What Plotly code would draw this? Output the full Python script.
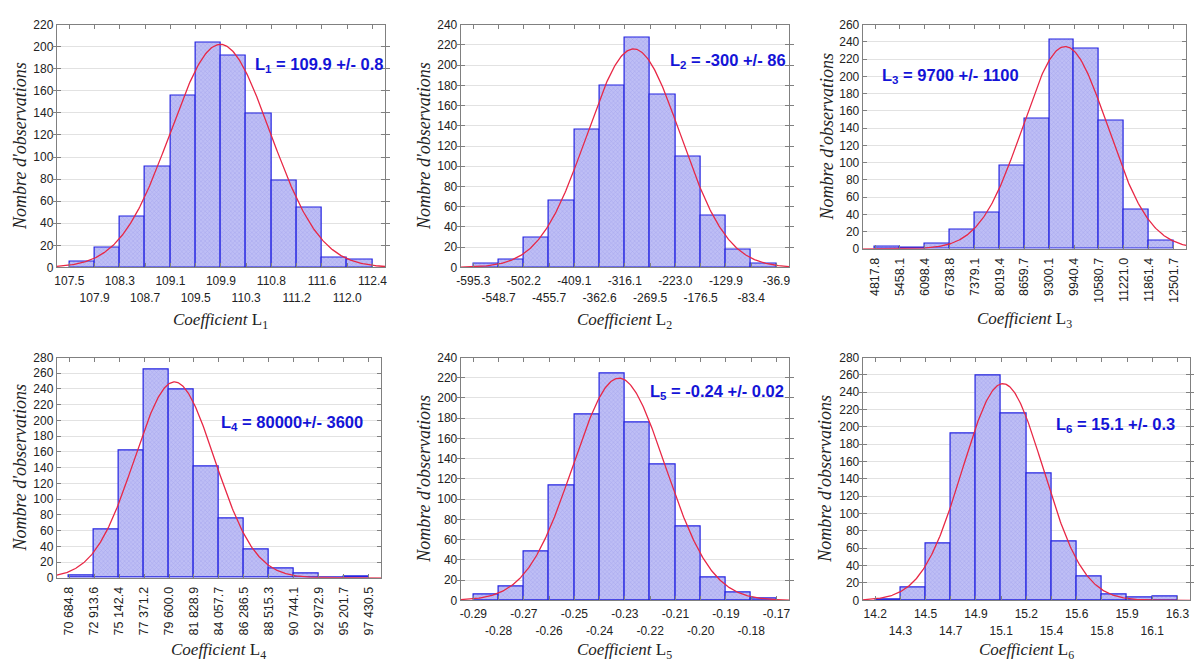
import numpy as np
import plotly.graph_objects as go

# Histogram counts per coefficient (12 bins each)
counts_L1 = [5, 18, 46, 91, 156, 204, 192, 139, 79, 54, 9, 7]
counts_L2 = [4, 8, 29, 66, 136, 180, 227, 171, 110, 51, 18, 4]
counts_L3 = [3, 1, 6, 22, 42, 96, 151, 243, 232, 149, 46, 10]
counts_L4 = [3, 62, 162, 265, 239, 141, 75, 36, 12, 5, 1, 2]
counts_L5 = [6, 14, 48, 113, 184, 224, 176, 134, 73, 23, 8, 2]
counts_L6 = [1, 15, 66, 192, 259, 215, 146, 68, 28, 7, 3, 4]

# Bin-edge tick labels
ticks_L1 = ["107.5", "107.9", "108.3", "108.7", "109.1", "109.5", "109.9",
            "110.3", "110.8", "111.2", "111.6", "112.0", "112.4"]
ticks_L2 = ["-595.3", "-548.7", "-502.2", "-455.7", "-409.1", "-362.6", "-316.1",
            "-269.5", "-223.0", "-176.5", "-129.9", "-83.4", "-36.9"]
ticks_L3 = ["4817.8", "5458.1", "6098.4", "6738.8", "7379.1", "8019.4", "8659.7",
            "9300.1", "9940.4", "10580.7", "11221.0", "11861.4", "12501.7"]
ticks_L4 = ["70 684.8", "72 913.6", "75 142.4", "77 371.2", "79 600.0", "81 828.9",
            "84 057.7", "86 286.5", "88 515.3", "90 744.1", "92 972.9", "95 201.7",
            "97 430.5"]
ticks_L5 = ["-0.29", "-0.28", "-0.27", "-0.26", "-0.25", "-0.24", "-0.23",
            "-0.22", "-0.21", "-0.20", "-0.19", "-0.18", "-0.17"]
ticks_L6 = ["14.2", "14.3", "14.5", "14.7", "14.9", "15.1", "15.2",
            "15.4", "15.6", "15.8", "15.9", "16.1", "16.3"]

# Fitted normal curves (mean, standard deviation)
fit_mean = [109.94, -300.0, 9710.0, 80090.0, -0.2323, 15.087]
fit_sd = [0.806, 86.3, 1090.0, 3582.0, 0.01826, 0.2806]

# Estimates printed in each panel
estimates = ["109.9 +/- 0.8", "-300 +/- 86", "9700 +/- 1100",
             "80000+/- 3600", "-0.24 +/- 0.02", "15.1 +/- 0.3"]

y_max = [220, 240, 260, 280, 240, 280]

counts_all = [counts_L1, counts_L2, counts_L3, counts_L4, counts_L5, counts_L6]
ticks_all = [ticks_L1, ticks_L2, ticks_L3, ticks_L4, ticks_L5, ticks_L6]

W, H = 1194, 669

# Plot areas in pixels: (left, right, top, bottom)
boxes = [(53, 383, 18, 266), (459, 789, 18, 266), (863, 1188, 18, 247),
         (53, 379, 358, 583), (459, 789, 358, 606), (863, 1192, 358, 606)]
vertical_ticks = [False, False, True, True, False, False]
label_pos = [(317, 59), (728, 55), (951, 70), (289, 425), (717, 393), (1117, 427)]
ytitle_x = [16, 422, 827, 16, 422, 825]
xtitle_y = [321, 321, 320, 658, 658, 658]

BAR_EDGE = "rgb(35,35,225)"
CURVE = "rgb(232,40,70)"
TEXT_BLUE = "rgb(20,20,215)"
FRAME = "rgb(128,128,128)"
GRID = "rgb(226,226,226)"
TICK_FONT = dict(family="Liberation Sans Narrow, Liberation Sans, Arial", size=12, color="#222")
VTICK_FONT = dict(family="Liberation Sans, Arial", size=12.5, color="#222")
SERIF = "Liberation Serif, Times New Roman, serif"

fig = go.Figure()
annotations = []
layout_axes = {}
extra_axis = 7

for i in range(6):
    n = i + 1
    xa = "x" if n == 1 else f"x{n}"
    ya = "y" if n == 1 else f"y{n}"
    counts = counts_all[i]
    labels = ticks_all[i]
    first = float(labels[0].replace(" ", ""))
    last = float(labels[-1].replace(" ", ""))
    edges = np.linspace(first, last, len(labels))
    w = edges[1] - edges[0]
    centers = (edges[:-1] + edges[1:]) / 2
    total = sum(counts)

    fig.add_trace(go.Bar(
        x=centers, y=counts, width=w, xaxis=xa, yaxis=ya, showlegend=False,
        marker=dict(
            color="rgb(186,186,244)",
            line=dict(color=BAR_EDGE, width=1.2),
            pattern=dict(shape="x", size=3, solidity=0.3,
                         fgcolor="rgb(140,140,228)", bgcolor="rgb(190,190,245)"),
        ),
    ))

    x0, x1 = edges[0] - 0.5 * w, edges[-1] + 0.5 * w
    xs = np.linspace(x0, x1, 400)
    m, s = fit_mean[i], fit_sd[i]
    ys = total * w / (s * np.sqrt(2 * np.pi)) * np.exp(-0.5 * ((xs - m) / s) ** 2)
    fig.add_trace(go.Scatter(x=xs, y=ys, mode="lines", xaxis=xa, yaxis=ya,
                             showlegend=False, line=dict(color=CURVE, width=1.3)))

    left, right, top, bottom = boxes[i]
    common = dict(showline=True, linecolor=FRAME, linewidth=1, mirror="allticks",
                  ticks="inside", ticklen=4, tickcolor=FRAME, zeroline=False)
    xdomain = [left / W, right / W]

    if vertical_ticks[i]:
        layout_axes[f"xaxis{'' if n == 1 else n}"] = dict(
            domain=xdomain, anchor=ya, range=[x0, x1],
            tickmode="array", tickvals=list(edges), ticktext=labels,
            tickangle=-90, showgrid=False, tickfont=VTICK_FONT,
            ticklabelstandoff=3, **common)
    else:
        # even-indexed edges labelled on the first row
        layout_axes[f"xaxis{'' if n == 1 else n}"] = dict(
            domain=xdomain, anchor=ya, range=[x0, x1],
            tickmode="array", tickvals=list(edges[0::2]), ticktext=labels[0::2],
            tickangle=0, showgrid=False, ticklabelstandoff=2, tickfont=TICK_FONT,
            **common)
        # odd-indexed edges labelled on a second, lower row
        xo = f"x{extra_axis}"
        layout_axes[f"xaxis{extra_axis}"] = dict(
            domain=xdomain, anchor=ya, overlaying=xa, range=[x0, x1],
            tickmode="array", tickvals=list(edges[1::2]), ticktext=labels[1::2],
            tickangle=0, showgrid=False, ticklabelstandoff=19, tickfont=TICK_FONT,
            **common)
        # invisible point so the overlay axis gets drawn
        fig.add_trace(go.Scatter(x=[x0], y=[0], xaxis=xo, yaxis=ya, mode="markers",
                                 marker=dict(opacity=0), hoverinfo="skip",
                                 showlegend=False))
        extra_axis += 1

    layout_axes[f"yaxis{'' if n == 1 else n}"] = dict(
        domain=[1 - bottom / H, 1 - top / H], anchor=xa, range=[0, y_max[i]],
        tickmode="linear", tick0=0, dtick=20, showgrid=True, gridcolor=GRID,
        gridwidth=1, tickfont=TICK_FONT, **common)

    lx, ly = label_pos[i]
    annotations.append(dict(
        text=f"L<sub>{n}</sub> = {estimates[i]}", x=lx / W, y=1 - ly / H,
        xref="paper", yref="paper", showarrow=False, xanchor="center", yanchor="middle",
        font=dict(family="Liberation Sans Narrow, Liberation Sans, Arial", size=16.5,
                  color=TEXT_BLUE, weight="bold")))
    annotations.append(dict(
        text="<i>Nombre d'observations</i>", x=ytitle_x[i] / W,
        y=1 - (top + bottom) / 2 / H, xref="paper", yref="paper", showarrow=False,
        textangle=-90, xanchor="center", yanchor="middle",
        font=dict(family=SERIF, size=18, color="#222")))
    annotations.append(dict(
        text=f"<i>Coefficient</i> L<sub>{n}</sub>", x=(left + right) / 2 / W,
        y=1 - xtitle_y[i] / H, xref="paper", yref="paper", showarrow=False,
        xanchor="center", yanchor="middle",
        font=dict(family=SERIF, size=17, color="#222")))

fig.update_layout(
    width=W, height=H, margin=dict(l=0, r=0, t=0, b=0),
    paper_bgcolor="white", plot_bgcolor="white", bargap=0,
    annotations=annotations, **layout_axes,
)

fig.write_html("out.html")
